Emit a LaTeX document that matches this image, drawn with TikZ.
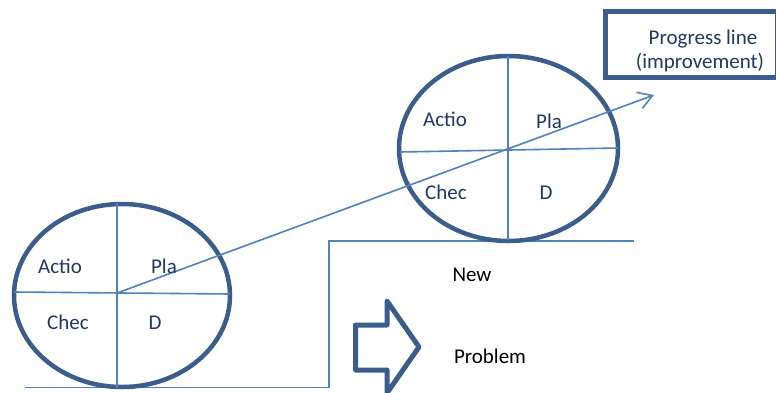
\documentclass[tikz,border=0pt]{standalone}
\usepackage{fontspec}
\setmainfont{Carlito}
\usetikzlibrary{shapes.geometric,arrows.meta}
\definecolor{ringblue}{HTML}{3A5D8C}
\definecolor{lineblue}{HTML}{4F81BD}
\definecolor{navytext}{HTML}{1F3864}
\tikzset{
  ring/.style={ellipse, draw=ringblue, line width=4.5pt, inner sep=0pt},
  thin/.style={draw=lineblue, line width=1.6pt},
  lbl/.style={anchor=base, inner sep=0pt, text=navytext, font=\fontsize{21}{24}\selectfont},
  blk/.style={anchor=base, inner sep=0pt, text=black, font=\fontsize{21}{24}\selectfont},
}
\begin{document}
\begin{tikzpicture}[x=1pt,y=-1pt]
\useasboundingbox (0,0) rectangle (776,392);
\fill[white] (0,0) rectangle (776,392);
% baseline steps
\coordinate (b0) at (25,387.5);
\coordinate (b1) at (329,387.5);
\coordinate (b2) at (329,241);
\coordinate (b3) at (634,241);
\draw[thin] (b0) -- (b1) -- (b2) -- (b3);
% lower ring
\node[ring, minimum width=216pt, minimum height=183pt] (c1) at (122,295.5) {};
\coordinate (c1t) at (117,203);
\coordinate (c1b) at (117,388);
\coordinate (c1l) at (14,292);
\coordinate (c1r) at (230,294);
\coordinate (c1c) at (117,293);
\draw[thin] (c1t) -- (c1b);
\draw[thin] (c1l) -- (c1r);
% upper ring
\node[ring, minimum width=219pt, minimum height=185pt] (c2) at (508.5,148.5) {};
\coordinate (c2t) at (508,56);
\coordinate (c2b) at (508,240);
\coordinate (c2l) at (400,152);
\coordinate (c2r) at (618,148);
\draw[thin] (c2t) -- (c2b);
\draw[thin] (c2l) -- (c2r);
% progress arrow
\coordinate (tip) at (654,95);
\draw[thin, -{Straight Barb[length=14pt,width=17pt,line width=1.6pt]}] (c1c) -- (tip);
% labels lower
\node[lbl] (a1) at (60,273) {Actio};
\node[lbl] (p1) at (164,273) {Pla};
\node[lbl] (k1) at (68,329) {Chec};
\node[lbl] (d1) at (155,329) {D};
% labels upper
\node[lbl] (a2) at (445,126) {Actio};
\node[lbl] (p2) at (549,128) {Pla};
\node[lbl] (k2) at (446,199) {Chec};
\node[lbl] (d2) at (546,199) {D};
% box
\draw[draw=ringblue, line width=5pt] (605.5,11.5) rectangle (777,77.5);
\node[lbl] (pl1) at (703,44) {Progress line};
\node[lbl] (pl2) at (700,68) {(improvement)};
% texts
\node[blk] (new) at (472,281.5) {New};
\node[blk] (prob) at (490,363) {Problem};
% block arrow
\draw[draw=ringblue, line width=5pt, line join=round, fill=white]
  (355.5,325) -- (387,325) -- (387,301) -- (419,347) -- (387,393) -- (387,370) -- (355.5,370) -- cycle;
\end{tikzpicture}
\end{document}
